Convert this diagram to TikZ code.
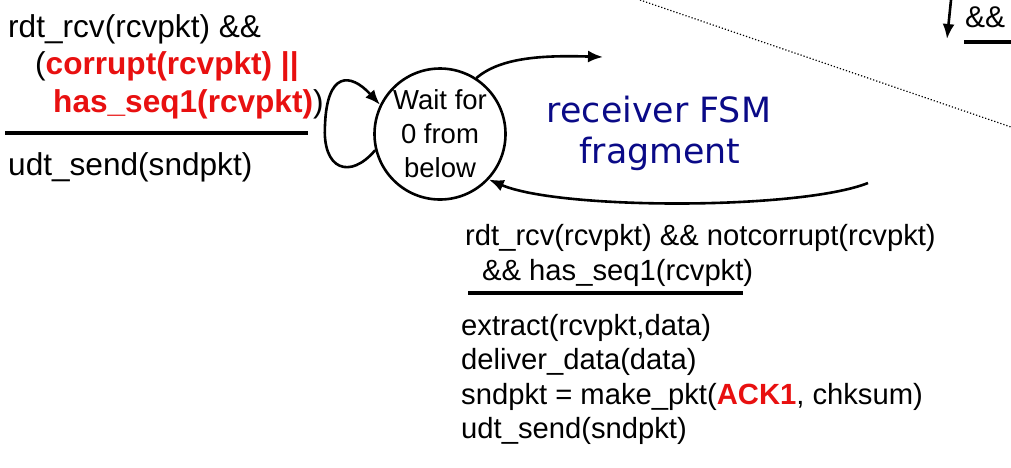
\documentclass[tikz,border=0pt]{standalone}
\usepackage{fontspec}
\setmainfont{Liberation Sans}
\newfontfamily\fsmfont{DejaVu Sans}
\usetikzlibrary{arrows.meta}
\definecolor{hotred}{RGB}{232,16,16}
\definecolor{fsmblue}{RGB}{10,10,135}
\tikzset{
  lbl/.style={anchor=base west, inner sep=0pt, font=\fontsize{31.6}{37}\selectfont},
  blbl/.style={anchor=base west, inner sep=0pt, font=\fontsize{29.2}{34}\selectfont},
  rule/.style={line width=4pt},
  trans/.style={line width=2.6pt, -{Latex[length=15pt,width=12pt]}},
  state/.style={circle, draw, line width=2.6pt, minimum size=131pt, inner sep=0pt, align=center, font=\fontsize{27.5}{34}\selectfont},
  fsmtxt/.style={anchor=base, inner sep=0pt, text=fsmblue, font=\fsmfont\fontsize{34.8}{41}\selectfont}
}
\begin{document}
\begin{tikzpicture}[x=1pt,y=-1pt]
\useasboundingbox (0,0) rectangle (1011,467);
% state
\node[state] (w) at (440,134) {Wait for\\0 from\\below};
% left self-loop label
\node[lbl] (l1) at (8,37) {rdt\_rcv(rcvpkt) \&\&};
\node[lbl] (l2) at (35,74) {(\textcolor{hotred}{\bfseries corrupt(rcvpkt) ||}};
\node[lbl] (l3) at (53,112) {\textcolor{hotred}{\bfseries has\_seq1(rcvpkt)})};
\coordinate (r1a) at (5,133);
\coordinate (r1b) at (308,133);
\draw[rule] (r1a) -- (r1b);
\node[lbl] (l4) at (8,175) {udt\_send(sndpkt)};
% self loop
\coordinate (lp) at (325,125);
\draw[trans] (w.194) .. controls (350,180) and (322,170) .. (lp)
  .. controls (327,72) and (350,72) .. (w.154);
% outgoing arc
\coordinate (outtip) at (603,57);
\draw[trans] (w.57) .. controls (500,58) and (540,55) .. (outtip);
% incoming arc
\coordinate (instart) at (868,183);
\draw[trans] (instart) .. controls (800,210) and (560,210) .. (w.317);
% receiver FSM fragment
\node[fsmtxt] (f1) at (659,122) {receiver FSM};
\node[fsmtxt] (f2) at (660,163) {fragment};
% bottom transition label
\node[blbl] (b1) at (465,245) {rdt\_rcv(rcvpkt) \&\& notcorrupt(rcvpkt)};
\node[blbl] (b2) at (482,280) {\&\& has\_seq1(rcvpkt)};
\coordinate (r2a) at (468,293);
\coordinate (r2b) at (743,293);
\draw[rule] (r2a) -- (r2b);
\node[blbl] (b3) at (461,335) {extract(rcvpkt,data)};
\node[blbl] (b4) at (461,369) {deliver\_data(data)};
\node[blbl] (b5) at (461,404) {sndpkt = make\_pkt(\textcolor{hotred}{\bfseries ACK1}, chksum)};
\node[blbl] (b6) at (461,438) {udt\_send(sndpkt)};
% dotted divider
\coordinate (d1) at (640,0);
\coordinate (d2) at (1011,127);
\draw[line width=1.2pt, dotted, black] (d1) -- (d2);
% top right fragment
\coordinate (ta) at (951,0);
\coordinate (tb) at (947,39);
\draw[trans] (ta) -- (tb);
\node[lbl, font=\fontsize{30}{36}\selectfont] (amp) at (965,27) {\&\&};
\coordinate (r3a) at (964,42);
\coordinate (r3b) at (1011,42);
\draw[rule] (r3a) -- (r3b);
\end{tikzpicture}
\end{document}
